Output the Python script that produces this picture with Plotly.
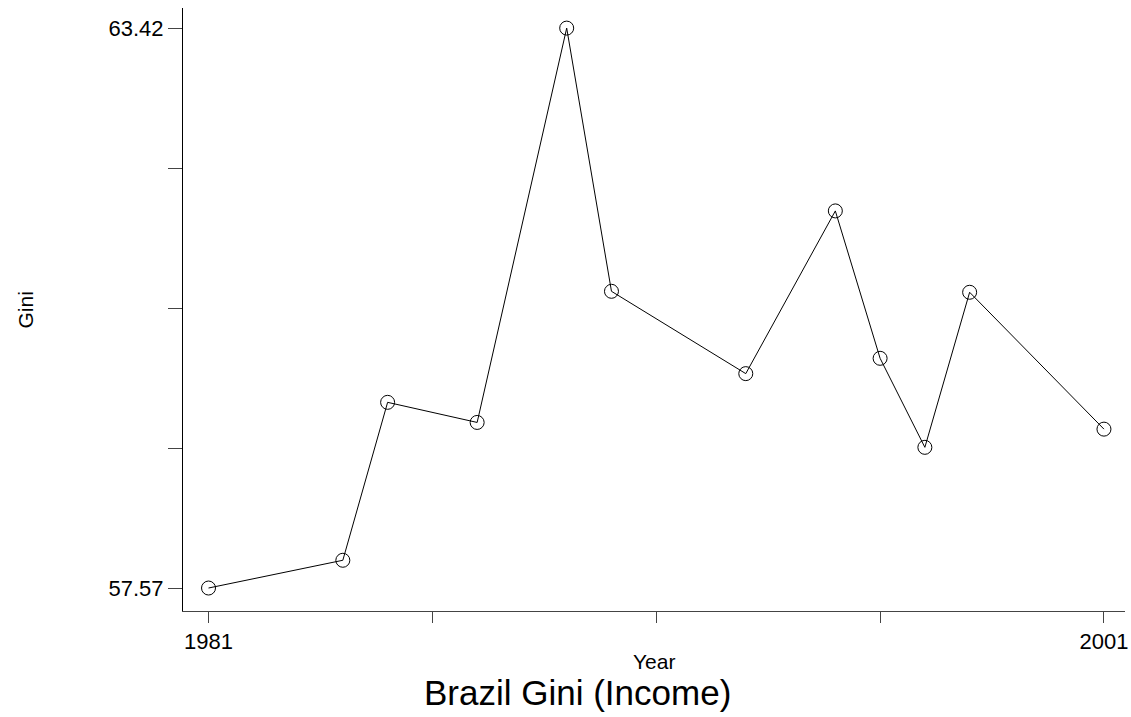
import plotly.graph_objects as go

years = [1981, 1984, 1985, 1987, 1989, 1990, 1993, 1995, 1996, 1997, 1998, 2001]
gini = [57.57, 57.86, 59.51, 59.30, 63.42, 60.67, 59.81, 61.51, 59.97, 59.04, 60.66, 59.23]

x_tickvals = [1981, 1986, 1991, 1996, 2001]
x_ticktext = ["1981", "", "", "", "2001"]
y_tickvals = [57.57, 59.0325, 60.495, 61.9575, 63.42]
y_ticktext = ["57.57", "", "", "", "63.42"]

W, H = 1131, 717
L, R, T, B = 183, 3, 8, 106
pw = W - L - R
ph = H - T - B

fig = go.Figure()
fig.add_trace(go.Scatter(
    x=years, y=gini, mode="lines+markers",
    line=dict(color="black", width=1),
    marker=dict(symbol="circle-open", size=14, color="black", line=dict(width=1)),
    showlegend=False,
))

font = "Liberation Sans, Arial, sans-serif"
fig.update_layout(
    width=W, height=H,
    margin=dict(l=L, r=R, t=T, b=B, pad=0),
    paper_bgcolor="white", plot_bgcolor="white",
    font=dict(family=font, color="black"),
    xaxis=dict(
        range=[1980.43, 2001.47], tickvals=x_tickvals, ticktext=x_ticktext,
        ticks="outside", ticklen=11, tickcolor="#444", tickwidth=1,
        showline=True, linecolor="#444", linewidth=1,
        showgrid=False, zeroline=False, tickfont=dict(size=22, family=font),
        ticklabeloverflow="allow",
    ),
    yaxis=dict(
        range=[57.33, 63.63], tickvals=y_tickvals, ticktext=y_ticktext,
        ticks="outside", ticklen=14, tickcolor="#444", tickwidth=1,
        showline=True, linecolor="black", linewidth=1,
        showgrid=False, zeroline=False, tickfont=dict(size=22, family=font),
        ticklabeloverflow="allow",
    ),
    annotations=[
        dict(text="Year", xref="paper", yref="paper",
             x=0.5, y=(T + ph - 661) / ph, xanchor="center", yanchor="middle",
             showarrow=False, font=dict(size=21, family=font)),
        dict(text="Gini", xref="paper", yref="paper", textangle=-90,
             x=(25 - L) / pw, y=(T + ph - 310) / ph, xanchor="center", yanchor="middle",
             showarrow=False, font=dict(size=21, family=font)),
        dict(text="Brazil Gini (Income)", xref="paper", yref="paper",
             x=(579 - L) / pw, y=(T + ph - 692) / ph, xanchor="center", yanchor="middle",
             showarrow=False, font=dict(size=35, family=font)),
    ],
)

fig.write_html(
    "out.html",
    config={"displayModeBar": False},
    post_script="document.body.style.margin='0';document.body.style.overflow='hidden';",
)
